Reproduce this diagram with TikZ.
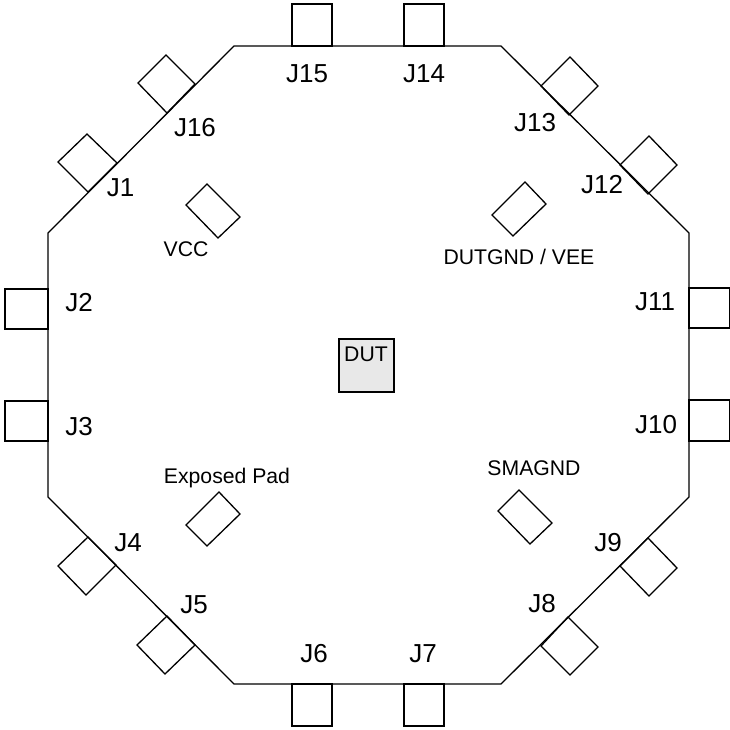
\documentclass[tikz,border=0pt]{standalone}
\usepackage{fontspec}
\setmainfont{Liberation Sans}
\usepackage{tikz}

\tikzset{
	pad/.style={draw=black, line width=1.3pt},
	board/.style={draw=black, line width=1.3pt},
	conn/.style={inner sep=0pt, font=\fontsize{26}{26}\selectfont},
	net/.style={inner sep=0pt, font=\fontsize{21.2}{21.2}\selectfont}
}

\begin{document}
\begin{tikzpicture}[x=1pt, y=-1pt]
	\useasboundingbox (0,0) rectangle (730,730);
	
	% Board outline
	\draw[board] (234,46) -- (501,46) -- (689,233) -- (689,497) -- (501,684) -- (234,684) -- (48,497) -- (48,233) -- cycle;
	
	% top and bottom connectors
	\draw[pad] (292,4) rectangle (332,46);
	\draw[pad] (404,4) rectangle (444,46);
	\draw[pad] (292,684) rectangle (332,726);
	\draw[pad] (404,684) rectangle (444,726);
	
	% left and right connectors
	\draw[pad] (5,289) rectangle (48,329);
	\draw[pad] (5,401) rectangle (48,441);
	\draw[pad] (689,288) rectangle (729.5,328);
	\draw[pad] (689,400) rectangle (729.5,441);
	
	% the other connectors
	\draw[pad] (87,134) -- (117,163) -- (88,192) -- (58,162) -- cycle;
	\draw[pad] (166,55) -- (195,84) -- (167,113) -- (138,83) -- cycle;
	\draw[pad] (570,57) -- (598,86) -- (569,115) -- (541,86) -- cycle;
	\draw[pad] (649,136) -- (677,165) -- (648,194) -- (620,165) -- cycle;
	\draw[pad] (88,537) -- (116,565) -- (86,595) -- (58,566) -- cycle;
	\draw[pad] (167,616) -- (195,645) -- (165,674) -- (137,645) -- cycle;
	\draw[pad] (568,617) -- (598,647) -- (570,675) -- (541,646) -- cycle;
	\draw[pad] (648,538) -- (677,568) -- (649,596) -- (620,566) -- cycle;
	
	% supply pads
	\draw[pad] (207,184) -- (240,217) -- (218,238) -- (186,205) -- cycle;
	\draw[pad] (525,182) -- (546,204) -- (513,236) -- (492,215) -- cycle;
	\draw[pad] (219,492) -- (240,514) -- (207,546) -- (186,525) -- cycle;
	\draw[pad] (519,490) -- (552,523) -- (530,544) -- (498,511) -- cycle;
	
	% device
	\draw[pad, fill=black!9] (339,339) rectangle (394,392);
	\node[net] (dut) at (366,354) {DUT};
	
	% connector names
	\node[conn] (j1) at (120.5,188) {J1};
	\node[conn] (j2) at (79,303) {J2};
	\node[conn] (j3) at (79,427) {J3};
	\node[conn] (j4) at (128,543) {J4};
	\node[conn] (j5) at (194,605) {J5};
	\node[conn] (j6) at (314,654) {J6};
	\node[conn] (j7) at (423,654) {J7};
	\node[conn] (j8) at (542,604) {J8};
	\node[conn] (j9) at (608,543) {J9};
	\node[conn] (j10) at (656,425) {J10};
	\node[conn] (j11) at (655,302) {J11};
	\node[conn] (j12) at (602,185) {J12};
	\node[conn] (j13) at (535,123) {J13};
	\node[conn] (j14) at (424,74) {J14};
	\node[conn] (j15) at (307,74) {J15};
	\node[conn] (j16) at (195,128) {J16};
	
	% pad names
	\node[net] (vcc) at (186,249) {VCC};
	\node[net] (vee) at (519,257) {DUTGND / VEE};
	\node[net] (epad) at (227,478) {Exposed Pad};
	\node[net] (smagnd) at (534,468) {SMAGND};
\end{tikzpicture}
\end{document}
